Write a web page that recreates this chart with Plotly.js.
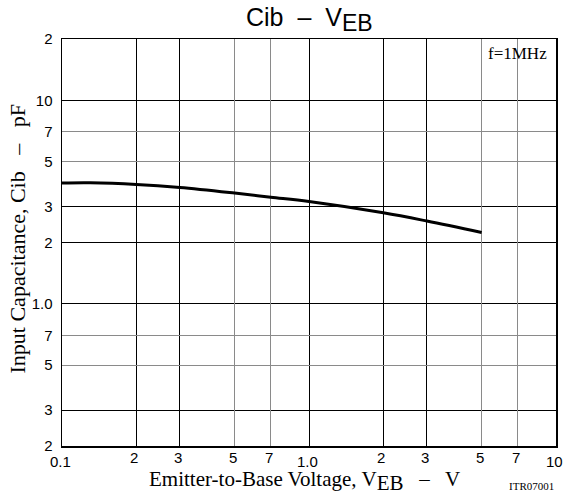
<!DOCTYPE html>
<html>
<head>
<meta charset="utf-8">
<script src="https://cdn.plot.ly/plotly-3.0.1.min.js"></script>
<style>html,body{margin:0;padding:0;background:#fff;}#chart{width:565px;height:496px;}</style>
</head>
<body>
<div id="chart"></div>
<script>
// Data
var vEB = [0.1, 0.13, 0.2, 0.3, 0.5, 0.7, 1.0, 2, 3, 5];
var cib = [3.92, 3.93, 3.86, 3.73, 3.50, 3.34, 3.18, 2.80, 2.55, 2.24];

// Grid / tick values
var xGridDark = [0.2, 0.3, 1, 2, 3];
var xGridLight = [0.5, 0.7, 5, 7];
var yGridDark = [0.2, 0.3, 1, 2, 3, 10];
var yGridLight = [0.5, 0.7, 5, 7];

var xTickVals = [0.1, 0.2, 0.3, 0.5, 0.7, 1, 2, 3, 5, 7, 10];
var xTickText = ['0.1', '2', '3', '5', '7', '1.0', '2', '3', '5', '7', '10'];
var yTickVals = [0.2, 0.3, 0.5, 0.7, 1, 2, 3, 5, 7, 10, 20];
var yTickText = ['2', '3', '5', '7', '1.0', '2', '3', '5', '7', '10', '2'];

var sans = 'Liberation Sans, Arial, sans-serif';
var serif = 'Liberation Serif, Times New Roman, serif';

var traces = [{
  x: vEB, y: cib, type: 'scatter', mode: 'lines',
  line: {color: '#000', width: 3, shape: 'spline', smoothing: 1},
  hoverinfo: 'skip', showlegend: false
}];

function isDecade(v) { var l = Math.log10(v); return Math.abs(l - Math.round(l)) < 1e-9; }
function bigSub(t, size) { return '<sub><span style="font-size:' + size + 'px">' + t + '</span></sub>'; }

var annotations = xTickVals.map(function (v, i) {
  var minor = !isDecade(v);
  return {
    x: Math.log10(v), xref: 'x', y: 0, yref: 'paper',
    text: xTickText[i], showarrow: false, xanchor: 'center', yanchor: 'top',
    yshift: minor ? -1 : -5, xshift: -2,
    font: {family: sans, size: 15, color: '#000'}
  };
});
annotations.push({
  x: 0.985, xref: 'paper', y: 1, yref: 'paper', xanchor: 'right', yanchor: 'top',
  yshift: -3, text: 'f=1MHz', showarrow: false,
  font: {family: serif, size: 17, color: '#000'}
});
annotations.push({
  x: 1, xref: 'paper', y: 0, yref: 'paper', xanchor: 'right', yanchor: 'top',
  yshift: -32, xshift: 0, text: 'ITR07001', showarrow: false,
  font: {family: serif, size: 11, color: '#000'}
});
annotations.push({
  x: 0, xref: 'paper', y: 0, yref: 'paper', xanchor: 'left', yanchor: 'middle',
  xshift: 85, yshift: -35, text: 'Emitter-to-Base Voltage, V' + bigSub('EB', 21) + '   \u2013   V', showarrow: false,
  font: {family: serif, size: 21, color: '#000'}
});
annotations.push({
  x: 0, xref: 'paper', y: 0.5, yref: 'paper', xanchor: 'center', yanchor: 'middle',
  xshift: -45, yshift: 3, textangle: -90, text: 'Input Capacitance, Cib   \u2013   pF', showarrow: false,
  font: {family: serif, size: 22, color: '#000'}
});
annotations.push({
  x: 0.5, xref: 'paper', y: 1, yref: 'paper', xanchor: 'center', yanchor: 'middle',
  yshift: 20, text: 'Cib  \u2013  V' + bigSub('EB', 23), showarrow: false,
  font: {family: sans, size: 25, color: '#000'}
});

var layout = {
  width: 565, height: 496,
  margin: {l: 62, r: 9, t: 39, b: 50},
  paper_bgcolor: '#fff', plot_bgcolor: '#fff',
  xaxis: {
    type: 'log', range: [-1, 1], tickvals: xGridDark, showticklabels: false,
    ticks: '', showgrid: true, gridcolor: '#000', gridwidth: 1,
    showline: true, linecolor: '#000', linewidth: 1.5, mirror: true, zeroline: false
  },
  xaxis2: {
    type: 'log', range: [-1, 1], overlaying: 'x', tickvals: xGridLight, showticklabels: false,
    ticks: '', showgrid: true, gridcolor: '#8a8a8a', gridwidth: 1, showline: false, zeroline: false
  },
  yaxis: {
    type: 'log', range: [Math.log10(0.2), Math.log10(20)], tickvals: yTickVals, ticktext: yTickText,
    ticks: '', ticklabelstandoff: 5, showgrid: false,
    tickfont: {family: sans, size: 15, color: '#000'},
    showline: true, linecolor: '#000', linewidth: 1.5, mirror: true, zeroline: false
  },
  yaxis2: {
    type: 'log', range: [Math.log10(0.2), Math.log10(20)], overlaying: 'y', tickvals: yGridDark,
    showticklabels: false, ticks: '', showgrid: true, gridcolor: '#000', gridwidth: 1, zeroline: false
  },
  yaxis3: {
    type: 'log', range: [Math.log10(0.2), Math.log10(20)], overlaying: 'y', tickvals: yGridLight,
    showticklabels: false, ticks: '', showgrid: true, gridcolor: '#8a8a8a', gridwidth: 1, zeroline: false
  },
  annotations: annotations,
  showlegend: false
};

// invisible helper traces so the overlay grid axes are drawn
traces.unshift({x: [0.1], y: [1], xaxis: 'x2', yaxis: 'y3', mode: 'none', type: 'scatter', hoverinfo: 'skip', showlegend: false});
traces.unshift({x: [0.1], y: [1], xaxis: 'x', yaxis: 'y2', mode: 'none', type: 'scatter', hoverinfo: 'skip', showlegend: false});

Plotly.newPlot('chart', traces, layout, {staticPlot: true, displayModeBar: false});
</script>
</body>
</html>
